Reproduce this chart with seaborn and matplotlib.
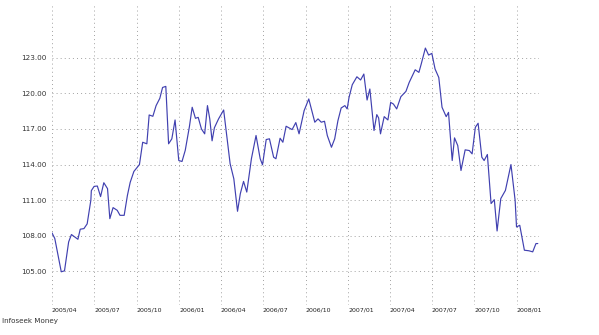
import matplotlib
matplotlib.use("Agg")
import matplotlib.pyplot as plt
import matplotlib.dates as mdates
from matplotlib.ticker import FixedLocator, FormatStrFormatter
import numpy as np
import pandas as pd
import seaborn as sns

# Weekly closing levels, as days elapsed since 2005-04-01
day_offsets = [
    0, 6, 20, 27, 36, 42, 56, 61, 69, 76, 84, 85, 91, 98, 105, 112, 120, 125,
    132, 141, 147, 156, 163, 169, 177, 189, 196, 205, 210, 218, 225, 233, 239,
    246, 252, 259, 266, 274, 281, 288, 297, 303, 310, 316, 323, 330, 336, 341,
    346, 351, 360, 371, 385, 393, 401, 407, 414, 421, 431, 441, 450, 455, 463,
    470, 479, 484, 493, 499, 506, 519, 527, 534, 545, 555, 568, 575, 582, 589,
    595, 604, 611, 618, 625, 633, 638, 642, 649, 659, 667, 674, 681, 687, 696,
    702, 706, 710, 718, 726, 732, 738, 745, 754, 765, 772, 785, 793, 798, 807,
    814, 821, 828, 836, 843, 852, 857, 865, 870, 877, 884, 893, 902, 908, 915,
    921, 929, 934, 941, 949, 956, 962, 970, 980, 992, 1001, 1004, 1011, 1021,
    1031, 1039, 1046, 1050,
]
index_values = [
    108.24, 107.77, 104.96, 105.04, 107.48, 108.10, 107.70, 108.55, 108.60,
    109.00, 111.00, 111.80, 112.16, 112.19, 111.30, 112.47, 111.97, 109.44,
    110.37, 110.14, 109.72, 109.72, 111.40, 112.50, 113.42, 114.00, 115.88,
    115.75, 118.18, 118.07, 118.97, 119.58, 120.50, 120.59, 115.75, 116.17,
    117.76, 114.34, 114.26, 115.20, 117.20, 118.83, 117.90, 117.98, 117.00,
    116.59, 118.97, 117.85, 116.00, 117.10, 117.85, 118.60, 114.07, 112.80,
    110.06, 111.54, 112.58, 111.68, 114.49, 116.45, 114.49, 113.98, 116.11,
    116.17, 114.62, 114.49, 116.22, 115.88, 117.23, 116.95, 117.54, 116.59,
    118.55, 119.53, 117.57, 117.85, 117.57, 117.65, 116.45, 115.46, 116.17,
    117.70, 118.77, 118.97, 118.69, 119.66, 120.73, 121.40, 121.13, 121.63,
    119.44, 120.37, 116.87, 118.21, 117.93, 116.59, 118.04, 117.76, 119.24,
    119.10, 118.69, 119.72, 120.17, 120.92, 121.99, 121.77, 122.47, 123.82,
    123.23, 123.37, 122.05, 121.34, 118.83, 118.04, 118.40, 114.34, 116.25,
    115.60, 113.50, 115.24, 115.18, 114.90, 117.14, 117.48, 114.62, 114.34,
    114.85, 110.71, 111.04, 108.40, 111.13, 111.82, 114.00, 110.98, 108.74,
    108.88, 106.78, 106.73, 106.64, 107.34, 107.34,
]

y_ticks = [105, 108, 111, 114, 117, 120, 123]
x_tick_labels = ["2005/04", "2005/07", "2005/10", "2006/01", "2006/04", "2006/07",
                 "2006/10", "2007/01", "2007/04", "2007/07", "2007/10", "2008/01"]
footer_text = "Infoseek Money"

start = pd.Timestamp("2005-04-01")
df = pd.DataFrame({
    "date": start + pd.to_timedelta(day_offsets, unit="D"),
    "value": index_values,
})
tick_dates = [pd.Timestamp(s.replace("/", "-") + "-01") for s in x_tick_labels]

sns.set_style("white")
plt.rcParams["font.family"] = ["DejaVu Sans"]

W, H = 599, 335
fig = plt.figure(figsize=(W / 100, H / 100), dpi=100)
left, right, top, bottom = 52, 539, 3, 305
ax = fig.add_axes([left / W, 1 - bottom / H, (right - left) / W, (bottom - top) / H])

sns.lineplot(data=df, x="date", y="value", ax=ax, color="#4040b0",
             linewidth=0.85, estimator=None)

ax.set_xlim(mdates.date2num(start), mdates.date2num(start + pd.Timedelta(days=1052.6)))
ax.set_ylim(102.16, 127.62)

grid_kw = dict(color="#a2a2a2", linewidth=0.7, linestyle=(0, (1, 3.2)))
for v in y_ticks:
    ax.axhline(v, **grid_kw, zorder=0)
for d in tick_dates:
    ax.axvline(mdates.date2num(d), **grid_kw, zorder=0)

ax.yaxis.set_major_locator(FixedLocator(y_ticks))
ax.yaxis.set_major_formatter(FormatStrFormatter("%.2f"))
ax.set_xticks([mdates.date2num(d) for d in tick_dates])
ax.set_xticklabels(x_tick_labels)
ax.tick_params(axis="y", length=0, pad=4, labelsize=5.2, labelcolor="#333333")
ax.tick_params(axis="x", length=0, pad=2, labelsize=4.5, labelcolor="#222222")
for lbl in ax.get_xticklabels():
    lbl.set_horizontalalignment("left")

for s in ax.spines.values():
    s.set_visible(False)
ax.set_xlabel("")
ax.set_ylabel("")

fig.text(2 / W, 1 - 321 / H, footer_text, fontsize=5.1, color="#333333",
         ha="left", va="center")

fig.savefig("out.png", dpi=100, facecolor="white")
